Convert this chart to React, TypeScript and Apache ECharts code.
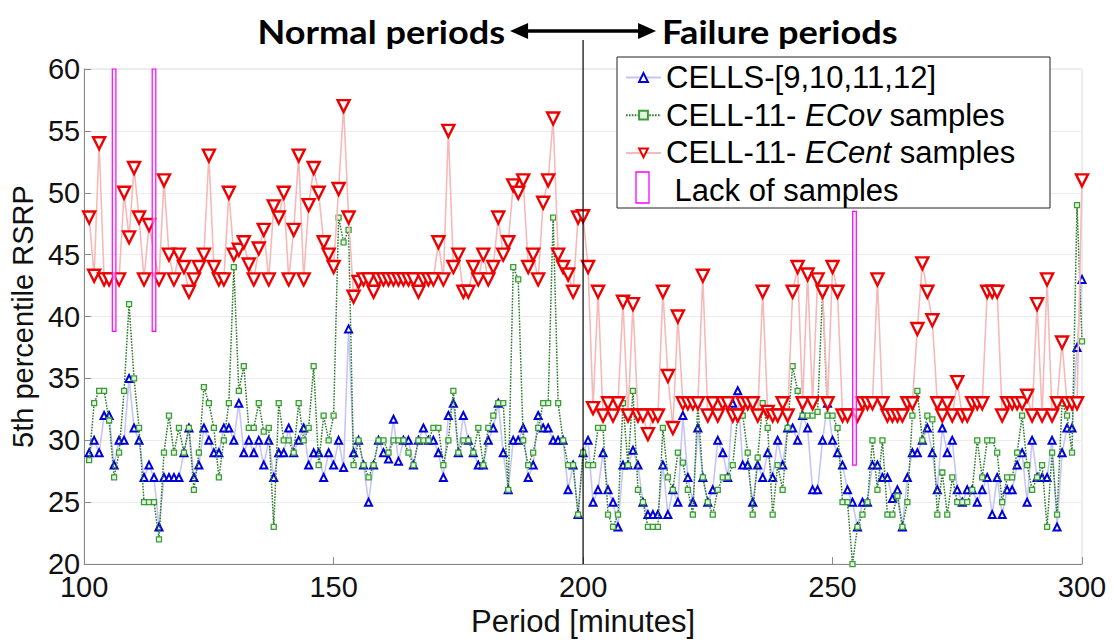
import React, { useEffect, useRef } from "react";
import * as echarts from "echarts";

// minutes 101..300
const START_MINUTE = 101;

const cellsValues = [
  29, 30, 29, 32, 32, 28, 30, 30, 35, 31,
  30, 27, 28, 27, 23, 27, 27, 27, 27, 29,
  31, 27, 28, 31, 30, 29, 29, 31, 31, 30,
  33, 29, 30, 29, 30, 28, 30, 27, 29, 29,
  31, 29, 30, 31, 28, 29, 29, 27, 29, 28,
  30, 27.8, 39, 29, 30, 28, 25, 28, 30, 29,
  28.5, 31.7, 28.3, 30, 30, 28, 30, 31, 30, 30,
  29, 27, 32, 33, 29, 32, 30, 29, 28, 28,
  30, 31, 33, 29, 26, 30, 30, 31, 27, 28,
  32, 31, 31, 30, 30, 30, 26, 28, 24, 29,
  30, 25, 26, 29, 26, 25, 23, 28, 28, 29.2,
  28, 25, 24, 24, 24, 28, 24, 26, 25, 32,
  27, 25, 31, 27, 25, 26, 30, 29, 27, 33,
  34, 28, 28, 25, 28, 27, 29, 27, 30, 28,
  31, 31, 30, 32, 31, 26, 26, 30, 33, 30,
  29, 28, 26, 25, 23, 25, 25, 28, 28, 27,
  27, 25.3, 26, 23, 27, 29, 29, 30, 31, 29,
  26, 31, 29, 30, 26, 25, 26, 26, 25, 26,
  27, 24, 27, 24, 26, 26, 28, 29, 25, 30,
  27, 27, 27, 30, 23, 29, 31, 31, 37.5, 43,
];

const ecovValues = [
  28.4, 33, 34, 34, 31.6, 27, 29, 34, 41, 35,
  31, 25, 25, 25, 22, 29, 32, 29, 31, 29,
  31, 26, 29, 34.3, 33, 31, 27, 30, 33, 44,
  34, 36, 31, 31, 33, 30.7, 31, 23, 33, 30,
  30, 29, 33, 30, 31, 36, 28, 32, 30, 32,
  48, 46, 47, 28, 30, 28, 27, 28, 30, 30,
  29, 30, 30, 30, 29, 28, 30, 30, 30, 31,
  31, 28, 30, 34, 29, 30, 30, 29, 31, 28,
  31, 32, 33, 33, 26, 44, 43, 30, 28, 29,
  31, 33, 33, 48, 33, 30, 28, 28, 24, 29,
  28, 28, 31, 31, 24, 23, 24, 33, 28, 34,
  26, 25, 23, 23, 23, 31, 27, 26, 29, 28.2,
  26, 24, 33, 27, 25, 24, 26, 27, 27, 28,
  32, 32, 29, 24, 28.6, 33, 31, 24, 28, 26,
  31, 36, 34, 32, 32, 32, 32.3, 42, 32, 32,
  31, 25, 25, 20, 23, 24, 25, 30, 26, 30,
  24, 24, 25.5, 23, 25, 32, 34, 30, 32, 31.7,
  24, 27.4, 24, 27, 25, 25, 25, 26, 30, 27,
  30, 30, 29, 25, 27, 27, 29, 32, 28, 26,
  27, 28, 23, 29, 24, 33, 32, 29, 49, 38,
];

const ecentValues: (number | null)[] = [
  48, 43.3, 54, 43, 43, null, 43, 50, 46.4, 52,
  48, 43, 47.4, null, 43, 51, 45, 43, 45, 44,
  42, 43, 44, 45, 53, 44, 43, 43, 50, 45,
  45.4, 46, 44.2, 43, 45.5, 47, 43, 48.9, 48, 50,
  43, 47, 53, 43, 49, 52, 50, 46, 45, 44,
  50.3, 57, 48, 41.6, 42.8, 43, 43, 42, 43, 43,
  43, 43, 43, 43, 43, 43, 42, 43, 43, 43,
  46, 43, 55, 44, 45, 42, 42, 44, 43, 45,
  43, 44, 48, 45, 46, 50.6, 50, 51, 44, 45,
  43, 49.2, 51, 56, 45, 44, 43.4, 42, 48, 48.1,
  44, 32.6, 42, 32, 33, 32, 33, 41.2, 32, 41,
  32, 32, 30.5, 32, 32, 42, 35.2, 31, 40, 33,
  33, 33, 33, 43.3, 32, 33, 32, 33, 33, 32,
  32, 33, 33, 33, 32, 42, 32.3, 32, 32, 33,
  32, 42, 44, 33, 43.4, 33, 43, 42, 33, 44,
  42, 32, 32, null, 32, 33, 33, 33, 43, 33,
  32, 32, 32, 32, 33, 33, 39, 44.3, 42, 39.7,
  33, 32, 33, 32, 34.7, 32, 32, 33, 33, 33,
  42, 42, 42, 32, 33, 33, 33, 33, 33.6, 32,
  41, 32, 43, 32, 33, 37.9, 33, 33, 33, 51,
];

// "Lack of samples" markers
const lackMinutes = [106, 114, 254.4];
const lackLow = [38.8, 38.8, 28];
const lackHigh = [60, 60, 48.5];

const xTicks = { min: 100, max: 300, interval: 50 };
const yTicks = { min: 20, max: 60, interval: 5 };
const dividerMinute = 200;

const S1 = "CELLS-[9,10,11,12]";
const S2 = "CELL-11- ECov samples";
const S3 = "CELL-11- ECent samples";
const S4 = "Lack of samples";

const FONT = "'Liberation Sans', Arial, Helvetica, sans-serif";
const TITLE_FONT = "Lato, 'Open Sans', sans-serif";

function toPairs(vals: (number | null)[]) {
  return vals.map((v, i) => [START_MINUTE + i, v]);
}

export default function App() {
  const ref = useRef<HTMLDivElement>(null);
  useEffect(() => {
    if (!ref.current) return;
    const chart = echarts.init(ref.current, undefined, { renderer: "svg" });
    const option: any = {
      animation: false,
      backgroundColor: "#ffffff",
      grid: {
        left: 84,
        right: 31,
        top: 69,
        bottom: 66,
        show: true,
        borderColor: "#dcdcdc",
        borderWidth: 1,
      },
      xAxis: {
        type: "value",
        min: xTicks.min,
        max: xTicks.max,
        interval: xTicks.interval,
        name: "Period [minutes]",
        nameLocation: "middle",
        nameGap: 34,
        nameTextStyle: { fontSize: 31, fontFamily: FONT, color: "#111" },
        axisLine: { show: true, lineStyle: { color: "#888", width: 1 } },
        axisTick: { show: true, inside: true, length: 7, lineStyle: { color: "#888" } },
        axisLabel: { fontSize: 29, fontFamily: FONT, color: "#111", margin: 8 },
        splitLine: { show: false },
      },
      yAxis: {
        type: "value",
        min: yTicks.min,
        max: yTicks.max,
        interval: yTicks.interval,
        name: "5th percentile RSRP",
        nameLocation: "middle",
        nameGap: 42,
        nameTextStyle: { fontSize: 29, fontFamily: FONT, color: "#111" },
        axisLine: { show: true, lineStyle: { color: "#888", width: 1 } },
        axisTick: { show: true, inside: true, length: 7, lineStyle: { color: "#888" } },
        axisLabel: { fontSize: 29, fontFamily: FONT, color: "#111", margin: 4 },
        splitLine: { show: true, lineStyle: { color: "#ececec", width: 1 } },
      },
      legend: {
        orient: "vertical",
        left: 625,
        top: 62,
        padding: 0,
        itemGap: 6.7,
        itemWidth: 35,
        itemHeight: 11,
        itemTextGap: 3,
        selectedMode: false,
        z: 10,
        data: [
          { name: S1 },
          { name: S2 },
          { name: S3 },
          { name: S4, icon: "none" },
        ],
        formatter: (name: string) => {
          if (name === S2) return "{n|CELL-11- }{i|ECov}{n| samples}";
          if (name === S3) return "{n|CELL-11- }{i|ECent}{n| samples}";
          if (name === S4) return "{n| Lack of samples}";
          return "{n|" + name + "}";
        },
        textStyle: {
          fontSize: 31,
          fontFamily: FONT,
          color: "#000",
          lineHeight: 30,
          rich: {
            n: { fontSize: 31, fontFamily: FONT, color: "#000", lineHeight: 30 },
            i: { fontSize: 31, fontFamily: FONT, fontStyle: "italic", color: "#000", lineHeight: 30 },
          },
        },
      },
      series: [
        {
          name: S1,
          type: "line",
          data: toPairs(cellsValues),
          symbol: "triangle",
          symbolSize: 7,
          showAllSymbol: true,
          lineStyle: { color: "#c6c6f6", width: 1.6 },
          itemStyle: { color: "#ffffff", borderColor: "#0000dd", borderWidth: 2 },
          z: 2,
        },
        {
          name: S2,
          type: "line",
          data: toPairs(ecovValues),
          symbol: "rect",
          symbolSize: 5,
          showAllSymbol: true,
          lineStyle: { color: "#2a7a2a", width: 1.5, type: [1.6, 1.3] },
          itemStyle: { color: "#e4f6dc", borderColor: "#3c9c3c", borderWidth: 1.3 },
          z: 3,
        },
        {
          name: S3,
          type: "line",
          data: toPairs(ecentValues),
          connectNulls: true,
          symbol: "triangle",
          symbolRotate: 180,
          symbolSize: 12,
          showAllSymbol: true,
          lineStyle: { color: "#f6b9b9", width: 1.6 },
          itemStyle: { color: "#ffffff", borderColor: "#ee0000", borderWidth: 2.4 },
          z: 4,
        },
        {
          name: S4,
          type: "custom",
          data: lackMinutes.map((m, i) => [m, lackLow[i], lackHigh[i]]),
          encode: { x: 0, y: [1, 2] },
          z: 5,
          itemStyle: { color: "#ff00ff" },
          renderItem: (params: any, api: any) => {
            const x = api.value(0);
            const top = api.coord([x, api.value(2)]);
            const bot = api.coord([x, api.value(1)]);
            const w = 3.6;
            return {
              type: "rect",
              shape: { x: top[0] - w / 2, y: top[1], width: w, height: bot[1] - top[1] },
              style: { fill: "rgba(255,235,255,0.6)", stroke: "#ff00ff", lineWidth: 1.2 },
            };
          },
        },
      ],
    };
    chart.setOption(option);

    const px = chart.convertToPixel({ xAxisIndex: 0 }, dividerMinute) as number;
    const yBottom = chart.convertToPixel({ yAxisIndex: 0 }, yTicks.min) as number;
    const arrowY = 31;
    const half = 73;
    const headL = 18;
    const headH = 8;
    chart.setOption({
      graphic: [
        {
          type: "rect",
          z: 8,
          shape: { x: 617, y: 57, width: 433, height: 151 },
          style: { fill: "#ffffff", stroke: "#222", lineWidth: 1 },
        },
        {
          type: "rect",
          z: 12,
          shape: { x: 636, y: 172, width: 13, height: 31 },
          style: { fill: "#ffffff", stroke: "#ff00ff", lineWidth: 1.3 },
        },
        {
          type: "line",
          z: 6,
          shape: { x1: px, y1: 40, x2: px, y2: yBottom },
          style: { stroke: "#000", lineWidth: 1.2 },
        },
        {
          type: "line",
          z: 6,
          shape: { x1: px - half + headL - 2, y1: arrowY, x2: px + half - headL + 2, y2: arrowY },
          style: { stroke: "#000", lineWidth: 3.5 },
        },
        {
          type: "polygon",
          z: 6,
          shape: { points: [[px - half, arrowY], [px - half + headL, arrowY - headH], [px - half + headL, arrowY + headH]] },
          style: { fill: "#000" },
        },
        {
          type: "polygon",
          z: 6,
          shape: { points: [[px + half, arrowY], [px + half - headL, arrowY - headH], [px + half - headL, arrowY + headH]] },
          style: { fill: "#000" },
        },
        {
          type: "text",
          z: 6,
          x: px - half - 5,
          y: arrowY,
          scaleX: 1.13,
          style: {
            text: "Normal periods",
            fontSize: 32,
            fontWeight: "bold",
            fontFamily: TITLE_FONT,
            fill: "#000",
            align: "right",
            verticalAlign: "middle",
          },
        },
        {
          type: "text",
          z: 6,
          x: px + half + 6,
          y: arrowY,
          scaleX: 1.13,
          style: {
            text: "Failure periods",
            fontSize: 32,
            fontWeight: "bold",
            fontFamily: TITLE_FONT,
            fill: "#000",
            align: "left",
            verticalAlign: "middle",
          },
        },
      ],
    });
    return () => chart.dispose();
  }, []);
  return (
    <div
      ref={ref}
      style={{ position: "absolute", left: 0, top: 0, width: 1113, height: 642 }}
    />
  );
}
